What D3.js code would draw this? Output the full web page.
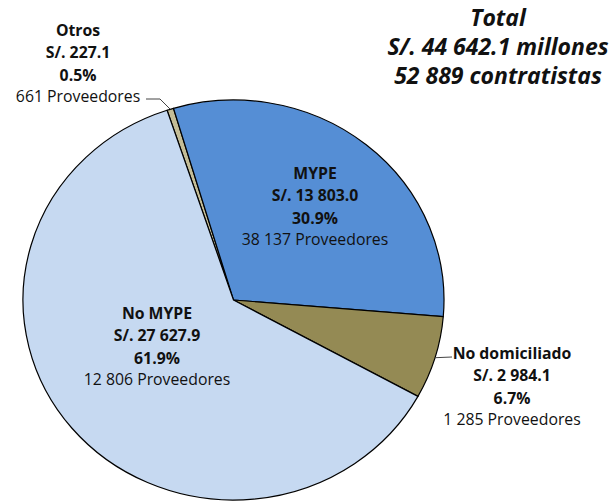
<!DOCTYPE html>
<html>
<head>
<meta charset="utf-8">
<script src="https://cdn.jsdelivr.net/npm/d3@7"></script>
<style>
  body { margin: 0; background: #fff; }
  text { font-family: "Open Sans", Lato, sans-serif; fill: #111; }
</style>
</head>
<body>
<svg id="chart" width="613" height="501"></svg>
<script>
const categories = ["Otros", "MYPE", "No domiciliado", "No MYPE"];
const amounts = [227.1, 13803.0, 2984.1, 27627.9];
const amountLabels = ["S/. 227.1", "S/. 13 803.0", "S/. 2 984.1", "S/. 27 627.9"];
const shareLabels = ["0.5%", "30.9%", "6.7%", "61.9%"];
const providerLabels = ["661 Proveedores", "38 137 Proveedores", "1 285 Proveedores", "12 806 Proveedores"];
const totalLines = ["Total", "S/. 44 642.1 millones", "52 889 contratistas"];

const colors = ["#C4BD97", "#558ED5", "#948A54", "#C6D9F1"];

/*centre and radii of the (slightly squashed) pie*/
const cx = 233.5, cy = 300, rx = 210.5, ry = 200;
const startDeg = -18.4;

/*label layout: text block centre and the bend points of any leader line*/
const labelLayout = {
  "Otros":          { x: 78,  y: 30,  leader: [[160, 99], [146, 99]] },
  "MYPE":           { x: 315, y: 173 },
  "No domiciliado": { x: 512, y: 353, leader: [[452, 357]] },
  "No MYPE":        { x: 157, y: 313 }
};

const svg = d3.select("#chart");

const pie = d3.pie()
  .sort(null)
  .value(d => d)
  .startAngle(startDeg * Math.PI / 180)
  .endAngle(startDeg * Math.PI / 180 + 2 * Math.PI);

const arcs = pie(amounts);
const arc = d3.arc().innerRadius(0).outerRadius(rx);

const g = svg.append("g")
  .attr("transform", `translate(${cx},${cy}) scale(1,${ry / rx})`);

g.selectAll("path")
  .data(arcs)
  .enter()
  .append("path")
  .attr("d", arc)
  .attr("fill", (d, i) => colors[i])
  .attr("stroke", "#000")
  .attr("stroke-width", 1.2)
  .attr("stroke-linejoin", "round")
  .attr("vector-effect", "non-scaling-stroke");

/*leader lines start on the outer edge at the slice's mid angle*/
const edgePoint = d => {
  const a = (d.startAngle + d.endAngle) / 2;
  return [cx + Math.sin(a) * rx, cy - Math.cos(a) * ry];
};

arcs.forEach((d, i) => {
  const lay = labelLayout[categories[i]];
  if (!lay.leader) return;
  svg.append("path")
    .attr("d", d3.line()([edgePoint(d)].concat(lay.leader)))
    .attr("fill", "none")
    .attr("stroke", "#444")
    .attr("stroke-width", 1);
});

/*four-line slice labels*/
const lineGap = 22.5;
categories.forEach((c, i) => {
  const lay = labelLayout[c];
  const t = svg.append("g").attr("transform", `translate(${lay.x},${lay.y})`);
  const lines = [c, amountLabels[i], shareLabels[i], providerLabels[i]];
  lines.forEach((s, j) => {
    t.append("text")
      .attr("y", j * lineGap - (j === 3 ? 1 : 0))
      .attr("dy", "0.35em")
      .attr("text-anchor", "middle")
      .style("font-size", "15.8px")
      .style("font-weight", j < 3 ? "bold" : "normal")
      .text(s);
  });
});

/*total in the top right corner*/
svg.append("g")
  .attr("transform", "translate(498,18)")
  .selectAll("text")
  .data(totalLines)
  .enter()
  .append("text")
  .attr("y", (d, i) => i * 29)
  .attr("dy", "0.35em")
  .attr("text-anchor", "middle")
  .style("font-size", "23px")
  .style("font-weight", "bold")
  .style("font-style", "italic")
  .text(d => d);
</script>
</body>
</html>
